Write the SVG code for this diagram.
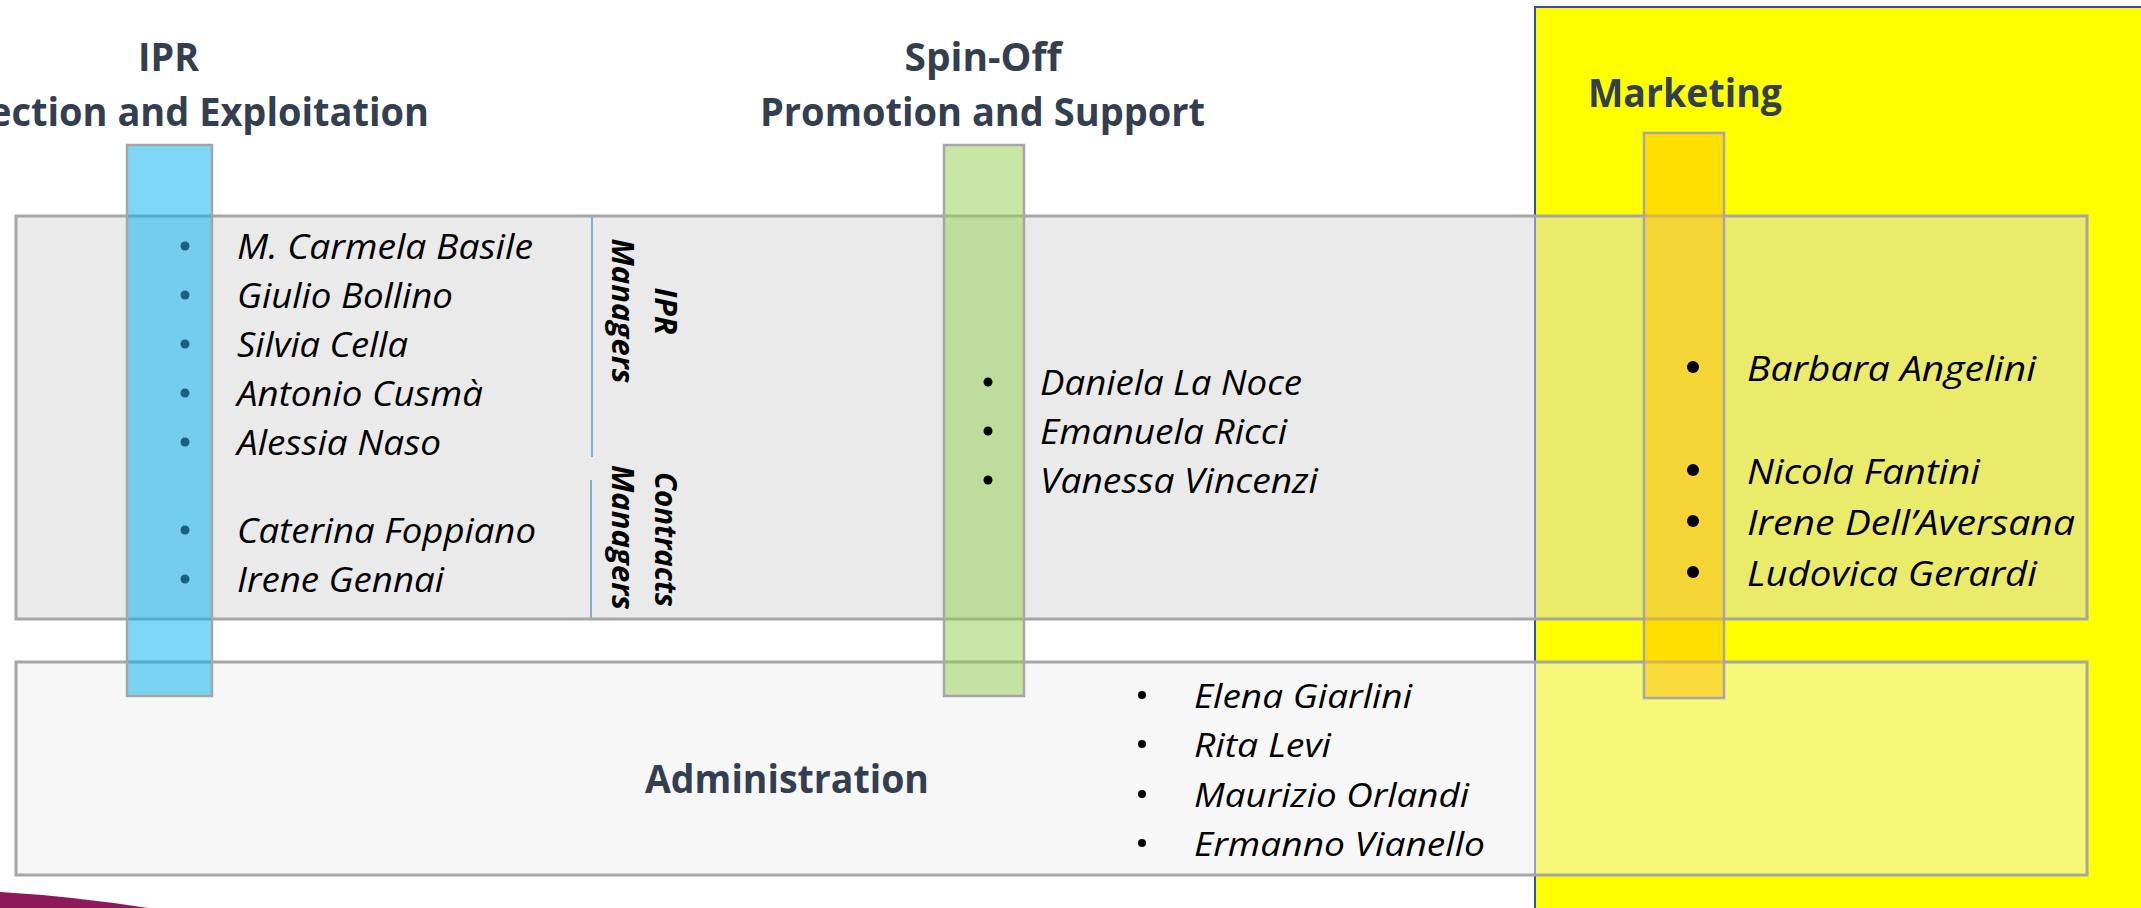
<svg xmlns="http://www.w3.org/2000/svg" width="2141" height="908" viewBox="0 0 2141 908">
<style>
.title{font-family:"Open Sans","Noto Sans","Liberation Sans",sans-serif;font-weight:700;font-size:40px;fill:#333F50}
.name{font-family:"Open Sans","Noto Sans","Liberation Sans",sans-serif;font-style:italic;font-size:35px;fill:#000}
.adm{font-size:32px}
.vl{font-family:"Open Sans","Noto Sans","Liberation Sans",sans-serif;font-style:italic;font-weight:700;font-size:30px;fill:#000}
.box{stroke:#A6A6A6;stroke-width:3}
.bar{stroke:#A6A6A6;stroke-width:2.5}
.div{stroke:#5B9BD5;stroke-width:1.5}
</style>
<rect width="2141" height="908" fill="#FFFFFF"/>
<g id="marketing-area">
  <rect x="1535" y="7" width="700" height="1000" fill="#FFFF00" stroke="#2F5597" stroke-width="2"/>
</g>
<g id="decoration">
  <path d="M0,892 Q70,896 148,908 L0,908 Z" fill="#8C1A5A"/>
</g>
<g id="rd-box">
  <rect class="box" x="16" y="216" width="2071" height="403" fill="#D5D5D5" fill-opacity="0.5"/>
</g>
<g id="admin-box">
  <rect class="box" x="16" y="662" width="2071" height="213" fill="#F0F0F0" fill-opacity="0.5"/>
</g>
<g id="ipr-bar">
  <rect class="bar" x="127" y="145" width="85" height="551" fill="#00B0F0" fill-opacity="0.5"/>
</g>
<g id="spinoff-bar">
  <rect class="bar" x="944" y="145" width="80" height="551" fill="#92D050" fill-opacity="0.5"/>
</g>
<g id="marketing-bar">
  <rect class="bar" x="1644" y="133" width="80" height="565" fill="#FFC000" fill-opacity="0.5"/>
</g>
<g id="dividers">
  <line class="div" x1="592" y1="217" x2="592" y2="457"/>
  <line class="div" x1="591" y1="480" x2="591" y2="618"/>
</g>
<g id="ipr-title">
  <text class="title" x="168.5" y="71" text-anchor="middle" textLength="61" lengthAdjust="spacingAndGlyphs">IPR</text>
  <text class="title" x="168.5" y="126" text-anchor="middle" textLength="521" lengthAdjust="spacingAndGlyphs">Protection and Exploitation</text>
</g>
<g id="spinoff-title">
  <text class="title" x="983" y="71" text-anchor="middle" textLength="157" lengthAdjust="spacingAndGlyphs">Spin-Off</text>
  <text class="title" x="982.5" y="126" text-anchor="middle" textLength="445" lengthAdjust="spacingAndGlyphs">Promotion and Support</text>
</g>
<g id="marketing-title">
  <text class="title" x="1588" y="107" textLength="194" lengthAdjust="spacingAndGlyphs">Marketing</text>
</g>
<g id="admin-title">
  <text class="title" x="645" y="793" textLength="284" lengthAdjust="spacingAndGlyphs">Administration</text>
</g>
<g id="ipr-names">
  <g fill="#1B5E7E">
    <circle cx="185" cy="246" r="4.5"/><circle cx="185" cy="295" r="4.5"/><circle cx="185" cy="344" r="4.5"/>
    <circle cx="185" cy="393" r="4.5"/><circle cx="185" cy="442" r="4.5"/><circle cx="185" cy="530" r="4.5"/>
    <circle cx="185" cy="579" r="4.5"/>
  </g>
  <text class="name" x="237" y="259" textLength="296" lengthAdjust="spacingAndGlyphs">M. Carmela Basile</text>
  <text class="name" x="237" y="308" textLength="216" lengthAdjust="spacingAndGlyphs">Giulio Bollino</text>
  <text class="name" x="237" y="357" textLength="171" lengthAdjust="spacingAndGlyphs">Silvia Cella</text>
  <text class="name" x="237" y="406" textLength="246" lengthAdjust="spacingAndGlyphs">Antonio Cusmà</text>
  <text class="name" x="237" y="455" textLength="204" lengthAdjust="spacingAndGlyphs">Alessia Naso</text>
  <text class="name" x="237" y="543" textLength="299" lengthAdjust="spacingAndGlyphs">Caterina Foppiano</text>
  <text class="name" x="237" y="592" textLength="207" lengthAdjust="spacingAndGlyphs">Irene Gennai</text>
</g>
<g id="ipr-managers-label">
  <text class="vl" transform="translate(655,311) rotate(90)" text-anchor="middle" textLength="47" lengthAdjust="spacingAndGlyphs">IPR</text>
  <text class="vl" transform="translate(612,311) rotate(90)" text-anchor="middle" textLength="145" lengthAdjust="spacingAndGlyphs">Managers</text>
</g>
<g id="contracts-managers-label">
  <text class="vl" transform="translate(655,539.5) rotate(90)" text-anchor="middle" textLength="135" lengthAdjust="spacingAndGlyphs">Contracts</text>
  <text class="vl" transform="translate(612,537.5) rotate(90)" text-anchor="middle" textLength="145" lengthAdjust="spacingAndGlyphs">Managers</text>
</g>
<g id="spinoff-names">
  <g fill="#000">
    <circle cx="988" cy="382" r="4.5"/><circle cx="988" cy="431" r="4.5"/><circle cx="988" cy="480" r="4.5"/>
  </g>
  <text class="name" x="1040" y="395" textLength="262" lengthAdjust="spacingAndGlyphs">Daniela La Noce</text>
  <text class="name" x="1040" y="444" textLength="247" lengthAdjust="spacingAndGlyphs">Emanuela Ricci</text>
  <text class="name" x="1040" y="493" textLength="278" lengthAdjust="spacingAndGlyphs">Vanessa Vincenzi</text>
</g>
<g id="marketing-names">
  <g fill="#000">
    <circle cx="1693" cy="367" r="6"/><circle cx="1693" cy="470" r="6"/><circle cx="1693" cy="521" r="6"/><circle cx="1693" cy="572" r="6"/>
  </g>
  <text class="name" x="1747" y="381" textLength="289" lengthAdjust="spacingAndGlyphs">Barbara Angelini</text>
  <text class="name" x="1747" y="484" textLength="233" lengthAdjust="spacingAndGlyphs">Nicola Fantini</text>
  <text class="name" x="1747" y="535" textLength="328" lengthAdjust="spacingAndGlyphs">Irene Dell’Aversana</text>
  <text class="name" x="1747" y="586" textLength="290" lengthAdjust="spacingAndGlyphs">Ludovica Gerardi</text>
</g>
<g id="admin-names">
  <g fill="#000">
    <circle cx="1142" cy="695" r="4"/><circle cx="1142" cy="744" r="4"/><circle cx="1142" cy="794" r="4"/><circle cx="1142" cy="843" r="4"/>
  </g>
  <text class="name adm" x="1194" y="708" textLength="218" lengthAdjust="spacingAndGlyphs">Elena Giarlini</text>
  <text class="name adm" x="1194" y="757" textLength="137" lengthAdjust="spacingAndGlyphs">Rita Levi</text>
  <text class="name adm" x="1194" y="807" textLength="275" lengthAdjust="spacingAndGlyphs">Maurizio Orlandi</text>
  <text class="name adm" x="1194" y="856" textLength="291" lengthAdjust="spacingAndGlyphs">Ermanno Vianello</text>
</g>
</svg>
